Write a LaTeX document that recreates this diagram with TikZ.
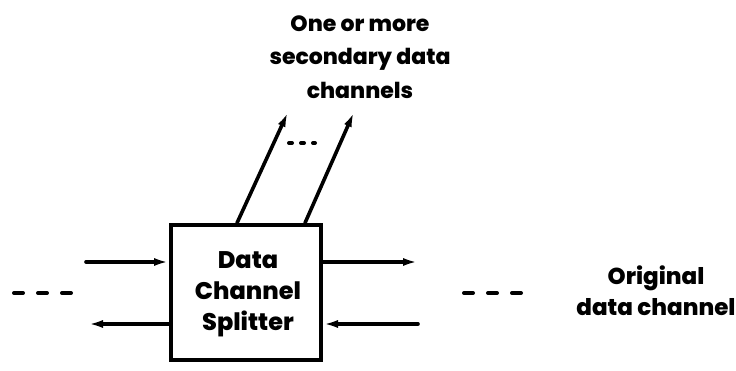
\documentclass[tikz,border=0pt]{standalone}
\usepackage{fontspec}
\setmainfont{Poppins}[BoldFont={Poppins ExtraBold}]
\usetikzlibrary{arrows.meta}
\begin{document}
\begin{tikzpicture}[x=1pt,y=-1pt,
  wire/.style={line width=3.6pt,line cap=round},
  arr/.style={wire,-{Latex[length=15pt,width=8pt]}},
  dashline/.style={line width=4pt,line cap=round,dash pattern=on 9pt off 15pt},
  lbl/.style={font=\bfseries\fontsize{22}{33.5}\selectfont,align=center,inner sep=0pt},
  sidelbl/.style={font=\bfseries\fontsize{23}{31}\selectfont,align=center,inner sep=0pt},
  boxlbl/.style={font=\bfseries\fontsize{24}{31}\selectfont,align=center,inner sep=0pt},
  boxst/.style={draw,line width=4pt,minimum width=150pt,minimum height=135pt,inner sep=0pt}]
\useasboundingbox (0,0) rectangle (736,371);
\node[boxst] (box) at (246,292.5) {};
\node[boxlbl] (boxtxt) at (248,294) {Data\\Channel\\Splitter};
\node[lbl] (sec) at (360,57) {One or more\\secondary data\\channels};
\node[sidelbl] (orig) at (656,291) {Original\\data channel};
% left side
\coordinate (lt) at (86,262);
\coordinate (lb) at (88,324);
\draw[arr] (lt) -- (lt -| box.west);
\draw[arr] (lb -| box.west) -- (lb);
% right side
\coordinate (rt) at (418,262);
\coordinate (rb) at (418,324);
\draw[arr] (rt -| box.east) -- (rt);
\draw[arr] (rb) -- (rb -| box.east);
% upward arrows
\coordinate (u1) at (288,112);
\coordinate (u2) at (354,112);
\draw[arr] (box.north west) ++(68,0) coordinate (b1) -- (u1);
\draw[arr] (box.north west) ++(136,0) coordinate (b2) -- (u2);
% dashes
\coordinate (dl1) at (14,293); \coordinate (dl2) at (72,293);
\coordinate (dr1) at (464,293); \coordinate (dr2) at (522,293);
\coordinate (du1) at (289,143); \coordinate (du2) at (315,143);
\draw[dashline] (dl1) -- (dl2);
\draw[dashline] (dr1) -- (dr2);
\draw[line width=4pt,line cap=round,dash pattern=on 3pt off 9pt] (du1) -- (du2);
\end{tikzpicture}
\end{document}
